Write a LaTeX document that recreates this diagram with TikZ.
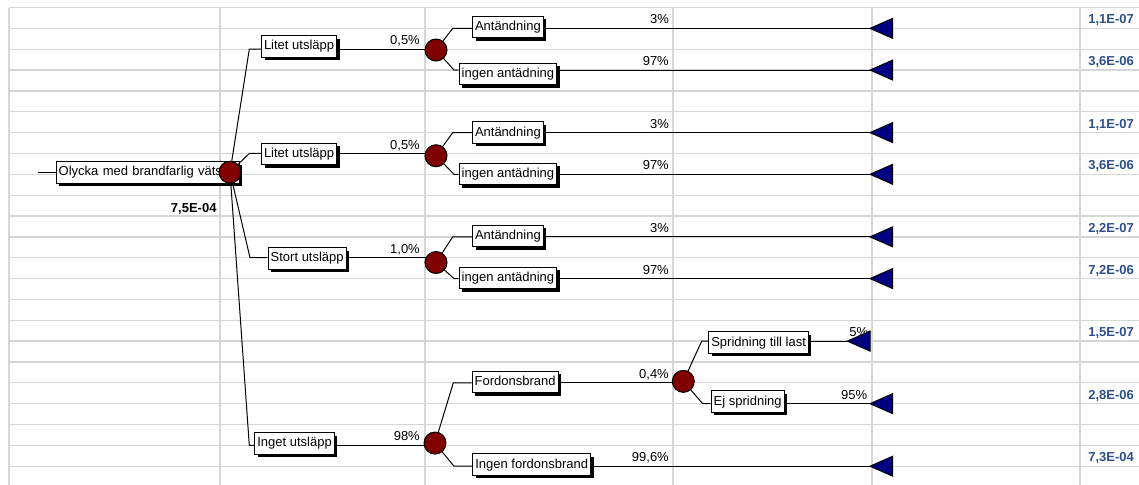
\documentclass[tikz,border=0pt]{standalone}
\usepackage{fontspec}
\setmainfont{Liberation Sans}
\usetikzlibrary{shadows}
\definecolor{gridgray}{RGB}{214,214,214}
\definecolor{chancered}{RGB}{128,0,0}
\definecolor{endblue}{RGB}{0,0,128}
\definecolor{valblue}{RGB}{47,79,139}

\tikzset{
  gridline/.style={gridgray, line width=1.3pt},
  branch/.style={black, line width=1pt},
  evbox/.style={draw, fill=white, line width=1pt, anchor=west,
    inner xsep=2.5pt, inner ysep=0pt, minimum height=21.5pt,
    text height=9.5pt, text depth=2.5pt, font=\fontsize{13}{15}\selectfont,
    drop shadow={shadow xshift=3pt, shadow yshift=-3pt, fill=black, opacity=1}},
  chance/.style={circle, draw, fill=chancered, line width=1pt, minimum size=22pt, inner sep=0pt},
  endtri/.style={draw, fill=endblue, line width=1pt},
  pct/.style={anchor=base east, inner sep=0pt, font=\fontsize{13}{15}\selectfont},
  val/.style={anchor=base east, inner sep=0pt, text=valblue, font=\bfseries\fontsize{13}{15}\selectfont}
}

\begin{document}
\begin{tikzpicture}[x=1pt, y=-20.85pt]
        \useasboundingbox (0,-0.36) rectangle (1139,22.9);

        % sheet grid
        \foreach \k in {0,...,22} \draw[gridline] (9,\k) -- (1139,\k);
        \foreach \x in {9,220,425,673,872,1080} \draw[gridline] (\x,0) -- (\x,22.9);

        % start event
        \coordinate (in) at (37.7,7.93);
        \coordinate (c0) at (230,7.9);
        \node[evbox, text width=178pt, align=left] (root) at (55.7,7.91) {Olycka med brandfarlig väts};
        \draw[branch] (in) -- (root.west |- in);
        \node[val, text=black] (p0) at (216.7,9.85) {7,5E-04};

        % release size
        \coordinate (e01) at (249.3,2);
        \coordinate (e02) at (249.3,7);
        \coordinate (e03) at (250,12);
        \coordinate (e04) at (249.3,21);
        \node[evbox] (l1) at (261,1.87) {Litet utsläpp};
        \node[evbox] (l2) at (261,7.03) {Litet utsläpp};
        \node[evbox] (s3) at (267.7,12.03) {Stort utsläpp};
        \node[evbox] (i4) at (254.3,20.9) {Inget utsläpp};
        \draw[branch] (c0) -- (e01) -- (e01 -| l1.west);
        \draw[branch] (c0) -- (e02) -- (e02 -| l2.west);
        \draw[branch] (c0) -- (e03) -- (e03 -| s3.west);
        \draw[branch] (c0) -- (e04) -- (e04 -| i4.west);

        \coordinate (c1) at (436,2.04);
        \coordinate (c2) at (436,7.11);
        \coordinate (c3) at (436,12.23);
        \coordinate (c4) at (435,20.89);
        \draw[branch] (l1.east |- e01) -- (c1 |- e01);
        \draw[branch] (l2.east |- e02) -- (c2 |- e02);
        \draw[branch] (s3.east |- e03) -- (c3 |- e03);
        \draw[branch] (i4.east |- e04) -- (c4 |- e04);
        \node[pct] at (420,1.79) {0,5\%};
        \node[pct] at (420,6.79) {0,5\%};
        \node[pct] at (420,11.79) {1,0\%};
        \node[pct] at (420,20.79) {98\%};

        % ignition, group 1
        \coordinate (e11) at (452.7,1);
        \coordinate (e12) at (454,3);
        \coordinate (t11) at (870,1);
        \coordinate (t12) at (870,3);
        \node[evbox] (a1) at (472,0.935) {Antändning};
        \node[evbox] (n1) at (458.7,3.2) {ingen antädning};
        \draw[branch] (c1) -- (e11) -- (e11 -| a1.west);
        \draw[branch] (c1) -- (e12) -- (e12 -| n1.west);
        \draw[branch] (a1.east |- e11) -- (t11);
        \draw[branch] (n1.east |- e12) -- (t12);
        \node[pct] at (669,0.79) {3\%};
        \node[pct] at (669,2.79) {97\%};

        % ignition, group 2
        \coordinate (e21) at (452.7,6);
        \coordinate (e22) at (454,8);
        \coordinate (t21) at (870,6);
        \coordinate (t22) at (870,8);
        \node[evbox] (a2) at (472,5.995) {Antändning};
        \node[evbox] (n2) at (458.7,7.98) {ingen antädning};
        \draw[branch] (c2) -- (e21) -- (e21 -| a2.west);
        \draw[branch] (c2) -- (e22) -- (e22 -| n2.west);
        \draw[branch] (a2.east |- e21) -- (t21);
        \draw[branch] (n2.east |- e22) -- (t22);
        \node[pct] at (669,5.79) {3\%};
        \node[pct] at (669,7.79) {97\%};

        % ignition, group 3
        \coordinate (e31) at (452.7,11);
        \coordinate (e32) at (454,13);
        \coordinate (t31) at (870,11);
        \coordinate (t32) at (870,13);
        \node[evbox] (a3) at (472,10.96) {Antändning};
        \node[evbox] (n3) at (458.7,12.97) {ingen antädning};
        \draw[branch] (c3) -- (e31) -- (e31 -| a3.west);
        \draw[branch] (c3) -- (e32) -- (e32 -| n3.west);
        \draw[branch] (a3.east |- e31) -- (t31);
        \draw[branch] (n3.east |- e32) -- (t32);
        \node[pct] at (669,10.79) {3\%};
        \node[pct] at (669,12.79) {97\%};

        % vehicle fire
        \coordinate (e41) at (453.3,18);
        \coordinate (e42) at (454,22);
        \coordinate (c5) at (683.3,17.93);
        \coordinate (t42) at (870,22);
        \node[evbox] (f4) at (471.7,17.95) {Fordonsbrand};
        \node[evbox] (g4) at (472.3,21.92) {Ingen fordonsbrand};
        \draw[branch] (c4) -- (e41) -- (e41 -| f4.west);
        \draw[branch] (c4) -- (e42) -- (e42 -| g4.west);
        \draw[branch] (f4.east |- e41) -- (c5 |- e41);
        \draw[branch] (g4.east |- e42) -- (t42);
        \node[pct] at (669,17.79) {0,4\%};
        \node[pct] at (669,21.79) {99,6\%};

        % spreading
        \coordinate (e51) at (701.7,16);
        \coordinate (e52) at (702.7,19);
        \coordinate (t51) at (847.3,16);
        \coordinate (t52) at (870,19);
        \node[evbox] (sp) at (708.3,16.07) {Spridning till last};
        \node[evbox] (ej) at (710.7,18.9) {Ej spridning};
        \draw[branch] (c5) -- (e51) -- (e51 -| sp.west);
        \draw[branch] (c5) -- (e52) -- (e52 -| ej.west);
        \draw[branch] (sp.east |- e51) -- (t51);
        \draw[branch] (ej.east |- e52) -- (t52);
        \node[pct] at (868.3,15.79) {5\%};
        \node[pct] at (867.3,18.79) {95\%};

        % end points
        \foreach \t in {t11,t12,t21,t22,t31,t32,t51,t52,t42}
          \filldraw[endtri] (\t) -- ++(22.7,0.48) -- ++(0,-0.96) -- cycle;

        \node[val] at (1134,0.79) {1,1E-07};
        \node[val] at (1134,2.79) {3,6E-06};
        \node[val] at (1134,5.79) {1,1E-07};
        \node[val] at (1134,7.79) {3,6E-06};
        \node[val] at (1134,10.79) {2,2E-07};
        \node[val] at (1134,12.79) {7,2E-06};
        \node[val] at (1134,15.79) {1,5E-07};
        \node[val] at (1134,18.79) {2,8E-06};
        \node[val] at (1134,21.79) {7,3E-04};

        % chance nodes
        \foreach \c in {c0,c1,c2,c3,c4,c5}
          \node[chance] at (\c) {};
\end{tikzpicture}
\end{document}
